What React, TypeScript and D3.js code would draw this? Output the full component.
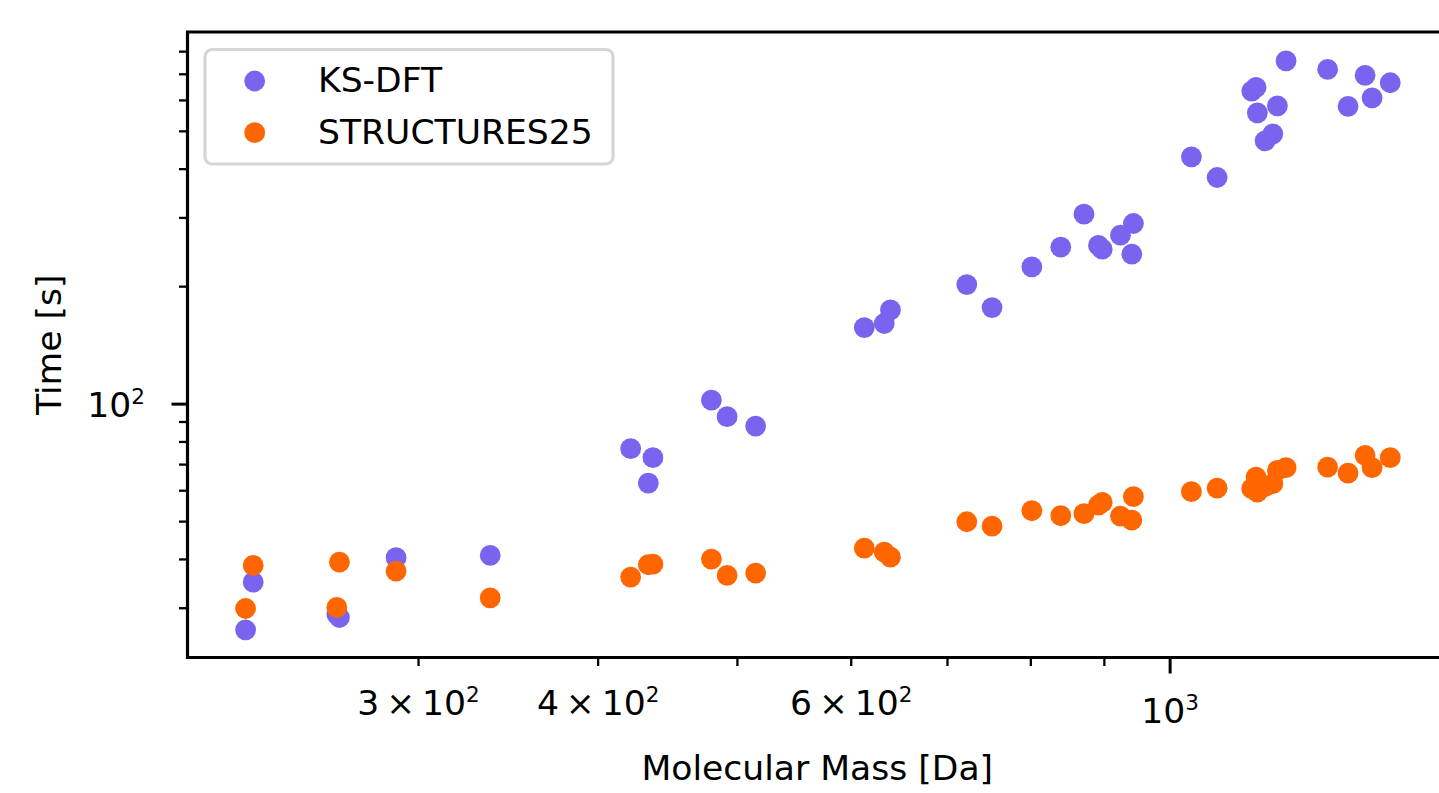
import React, { useRef, useEffect } from "react";
import * as d3 from "d3";

// molecular mass of each molecule [Da]
const massDa = [227.4, 230.2, 263.2, 264.3, 289.4, 336.5, 421.4, 433.5, 436.7, 479.6, 491.8, 514.8,
  612.7, 632.6, 638.9, 722.0, 751.8, 801.3, 839.3, 871.1, 891.5, 896.9, 923.5, 940.5, 942.9,
  1034.7, 1078.2, 1139.7, 1147.6, 1150.0, 1164.3, 1178.8, 1187.5, 1204.1, 1287.0, 1329.8, 1366.6, 1382.0, 1422.8];

// wall time [s]
const ksDftTime = [26.41, 34.98, 28.91, 28.40, 40.41, 40.96, 76.89, 62.77, 72.91, 102.45, 92.88, 87.88,
  157.1, 160.9, 174.3, 202.5, 176.8, 224.7, 252.5, 306.7, 255.0, 249.5, 270.9, 242.2, 290.3,
  430.1, 380.8, 634.0, 648.0, 557.7, 472.8, 492.7, 581.2, 758.1, 720.6, 579.2, 695.6, 609.2, 665.9];

const structuresTime = [29.95, 38.61, 30.13, 39.37, 37.33, 31.90, 36.04, 38.77, 38.9, 40.08, 36.40, 36.90,
  42.76, 41.76, 40.55, 49.96, 48.68, 53.32, 51.77, 52.39, 55.12, 56.01, 51.65, 50.44, 57.93,
  59.67, 60.92, 60.71, 65.03, 59.53, 61.5, 62.55, 67.65, 68.74, 68.98, 66.58, 73.91, 68.74, 72.91];

const seriesNames = ["KS-DFT", "STRUCTURES25"];
const seriesColors = ["#7963ef", "#ff6600"];

// tick labels: [value, mantissa, exponent]
const xTickLabels: [number, string, string][] = [[300, "3", "2"], [400, "4", "2"], [600, "6", "2"], [1000, "", "3"]];
const yTickLabels: [number, string, string][] = [[100, "", "2"]];

const xDomain = [207.2, 1558.2];
const yDomain = [22.43, 898.4];

const FONT = "DejaVu Sans, Verdana, sans-serif";
const FS = 34.6;

const App = () => {
  const svgRef = useRef<SVGSVGElement>(null);
  const svg_width = 1439;
  const svg_height = 793;
  const left = 187.5, top = 32, right = 1447, bottom = 657.5;

  useEffect(() => {
    const svg = d3.select(svgRef.current);
    svg.selectChildren().remove();

    const x_scale = d3.scaleLog().domain(xDomain).range([left, right]);
    const y_scale = d3.scaleLog().domain(yDomain).range([bottom, top]);

    // minor / major ticks
    const xMajor = [100, 1000, 10000].filter(v => v >= xDomain[0] && v <= xDomain[1]);
    const xMinor: number[] = [];
    [100, 1000].forEach(b => d3.range(2, 10).forEach(m => {
      const v = b * m;
      if (v >= xDomain[0] && v <= xDomain[1]) xMinor.push(v);
    }));
    const yMajor = [10, 100, 1000].filter(v => v >= yDomain[0] && v <= yDomain[1]);
    const yMinor: number[] = [];
    [10, 100].forEach(b => d3.range(2, 10).forEach(m => {
      const v = b * m;
      if (v >= yDomain[0] && v <= yDomain[1]) yMinor.push(v);
    }));

    const ticks = svg.append("g").attr("stroke", "#000");
    ticks.selectAll("line.xmin").data(xMinor).join("line")
      .attr("x1", d => x_scale(d)).attr("x2", d => x_scale(d))
      .attr("y1", bottom).attr("y2", bottom + 8.5).attr("stroke-width", 2.3);
    ticks.selectAll("line.xmaj").data(xMajor).join("line")
      .attr("x1", d => x_scale(d)).attr("x2", d => x_scale(d))
      .attr("y1", bottom).attr("y2", bottom + 16).attr("stroke-width", 3);
    ticks.selectAll("line.ymin").data(yMinor).join("line")
      .attr("y1", d => y_scale(d)).attr("y2", d => y_scale(d))
      .attr("x1", left).attr("x2", left - 8.5).attr("stroke-width", 2.3);
    ticks.selectAll("line.ymaj").data(yMajor).join("line")
      .attr("y1", d => y_scale(d)).attr("y2", d => y_scale(d))
      .attr("x1", left).attr("x2", left - 16).attr("stroke-width", 3);

    // tick labels
    const addPow = (g: any, mant: string, exp: string) => {
      g.append("tspan").text(mant ? mant + "\u2009\u00d7\u200910" : "10");
      g.append("tspan").attr("font-size", 21.5).attr("dy", -13).text(exp);
    };
    xTickLabels.forEach(([v, mant, exp]) => {
      const isMajor = xMajor.includes(v);
      const t = svg.append("text")
        .attr("x", x_scale(v)).attr("y", isMajor ? 723 : 715)
        .attr("text-anchor", "middle").attr("font-family", FONT).attr("font-size", FS);
      addPow(t, mant, exp);
    });
    yTickLabels.forEach(([v, mant, exp]) => {
      const t = svg.append("text")
        .attr("x", 145).attr("y", y_scale(v) + 13)
        .attr("text-anchor", "end").attr("font-family", FONT).attr("font-size", FS);
      addPow(t, mant, exp);
    });

    // axis labels
    svg.append("text")
      .attr("x", (left + right) / 2).attr("y", 780)
      .attr("text-anchor", "middle").attr("font-family", FONT).attr("font-size", FS)
      .text("Molecular Mass [Da]");
    svg.append("text")
      .attr("transform", `translate(61, ${(top + bottom) / 2}) rotate(-90)`)
      .attr("text-anchor", "middle").attr("font-family", FONT).attr("font-size", FS)
      .text("Time [s]");

    // scatter points
    const series = [ksDftTime, structuresTime];
    series.forEach((vals, i) => {
      svg.append("g").selectAll("circle").data(vals).join("circle")
        .attr("cx", (d, j) => x_scale(massDa[j]))
        .attr("cy", d => y_scale(d))
        .attr("r", 10.4)
        .attr("fill", seriesColors[i]);
    });

    // spines
    svg.append("path")
      .attr("d", `M${right},${top}H${left}V${bottom}H${right}V${top}`)
      .attr("fill", "none").attr("stroke", "#000").attr("stroke-width", 3.2)
      .attr("stroke-linejoin", "miter").attr("stroke-linecap", "square");

    // legend
    const lg = svg.append("g");
    lg.append("rect")
      .attr("x", 205).attr("y", 49.5).attr("width", 408).attr("height", 114.5)
      .attr("rx", 7).attr("ry", 7)
      .attr("fill", "#fff").attr("fill-opacity", 0.8)
      .attr("stroke", "#d6d6d6").attr("stroke-width", 3.2);
    seriesNames.forEach((name, i) => {
      const cy = 81 + i * 51.7;
      lg.append("circle").attr("cx", 254.7).attr("cy", cy).attr("r", 10.4).attr("fill", seriesColors[i]);
      lg.append("text")
        .attr("x", 318).attr("y", cy + 11)
        .attr("font-family", FONT).attr("font-size", FS)
        .text(name);
    });
  });

  return (
    <div style={{ position: "absolute", left: 0, top: 0 }}>
      <svg ref={svgRef} width={svg_width} height={svg_height} style={{ display: "block", background: "#fff" }}>
      </svg>
    </div>
  );
};

export default App;
